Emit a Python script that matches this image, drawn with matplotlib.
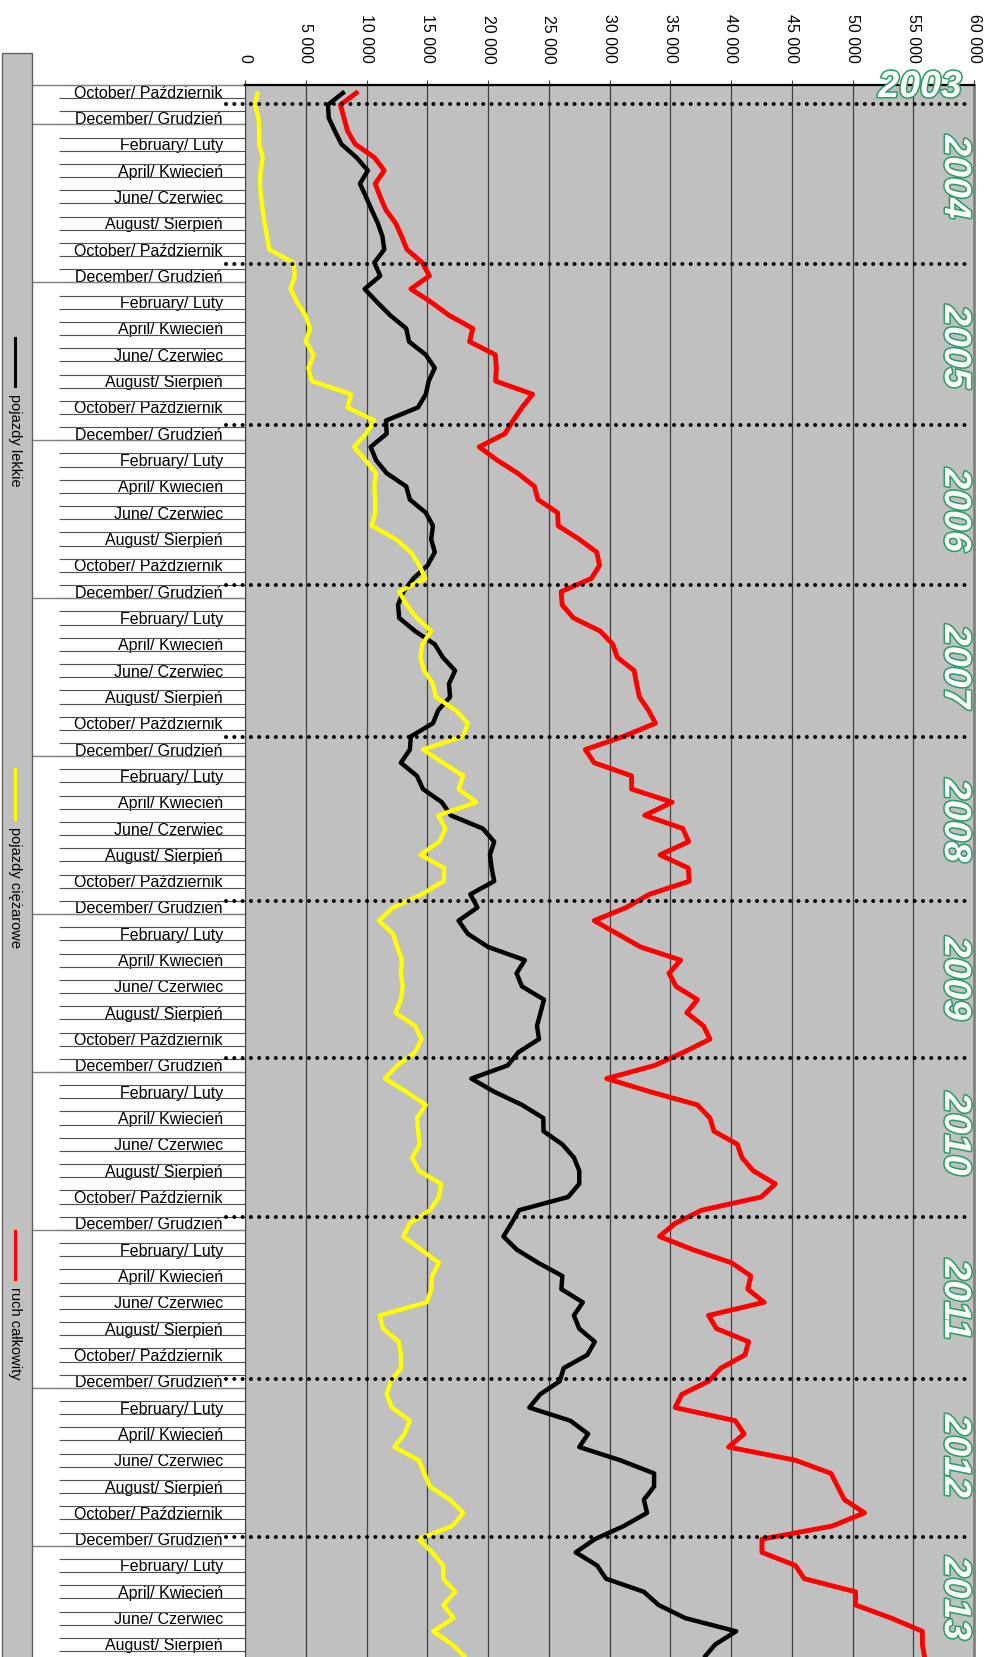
import numpy as np
import matplotlib
matplotlib.use('Agg')
import matplotlib.pyplot as plt
import matplotlib.patheffects as pe
from matplotlib.patches import Rectangle
from matplotlib.lines import Line2D

plt.rcParams['font.family'] = ['Liberation Sans', 'DejaVu Sans']

# nazwy miesięcy (EN / PL)
month_names = ['January/ Styczeń', 'February/ Luty', 'March/ Marzec', 'April/ Kwiecień',
               'May/ Maj', 'June/ Czerwiec', 'July/ Lipiec', 'August/ Sierpień',
               'September/ Wrzesień', 'October/ Październik', 'November/ Listopad',
               'December/ Grudzień']
start_month = 10   # październik 2003
n_months = 120

# pojazdy lekkie
light = [8200, 6830, 6890, 7400, 7940, 9170, 10110, 9460, 9960, 10430, 10930, 11310,
         11460, 10640, 11130, 9850, 10870, 11950, 13270, 13500, 14880, 15620, 15120, 14880,
         14240, 11600, 11660, 10340, 10780, 11660, 13270, 13570, 14880, 15470, 15320, 15620,
         15030, 13860, 13040, 12600, 12690, 14000, 15620, 16290, 17290, 16790, 16880, 15910,
         15470, 13650, 13570, 12830, 14150, 14650, 16200, 16940, 19570, 20510, 20160, 20300,
         20510, 18550, 19130, 17580, 18340, 20010, 23030, 22350, 22800, 24610, 24320, 24030,
         24200, 22500, 21620, 18630, 20510, 22800, 24550, 24570, 26120, 27070, 27510, 27510,
         26590, 22560, 21930, 21270, 22370, 24130, 26120, 26040, 27800, 27070, 27510, 28790,
         28170, 26230, 25900, 24280, 23400, 26780, 28240, 27510, 30880, 33670, 33670, 32830,
         33090, 31180, 28790, 27220, 28980, 29710, 32830, 34040, 36240, 40420, 38700, 37780]

# pojazdy ciężarowe
heavy = [1060, 820, 1110, 1170, 1170, 1460, 1290, 1230, 1320, 1460, 1610, 1820,
         1990, 3990, 4100, 3750, 4280, 4980, 5360, 5000, 5650, 5220, 5510, 8730,
         8440, 10640, 9960, 8970, 9900, 10780, 10640, 10720, 10720, 10430, 12390, 13650,
         14360, 14830, 12690, 13300, 14150, 15320, 14590, 14440, 14740, 15470, 15700, 17320,
         18340, 17960, 14650, 16290, 17960, 17580, 19040, 15910, 16500, 16000, 14440, 16400,
         16350, 14530, 12190, 11020, 12190, 12540, 12920, 12830, 12980, 12830, 12390, 14000,
         14530, 14000, 12540, 11510, 13270, 14880, 14150, 14250, 14380, 13760, 14300, 16140,
         15960, 15220, 13570, 13020, 14490, 15960, 15410, 15330, 14970, 11080, 11370, 12650,
         12840, 12840, 12000, 11660, 12100, 13570, 13130, 12290, 14300, 14750, 15220, 16870,
         17970, 17060, 14300, 15400, 16320, 16320, 17310, 16320, 17170, 15480, 17060, 18160]

# ruch całkowity
total = [9320, 7850, 8150, 8440, 9080, 10640, 11460, 10720, 11130, 11600, 12400, 12890,
         13330, 14590, 15180, 13650, 15320, 16790, 18750, 18480, 20600, 20690, 20630, 23670,
         22800, 22060, 21390, 19280, 20740, 22440, 23820, 24110, 25730, 25780, 27480, 28950,
         29180, 28510, 26020, 26100, 27040, 29240, 30270, 30650, 32030, 32230, 32460, 33200,
         33780, 31150, 28010, 28740, 31820, 31820, 35160, 32900, 36040, 36510, 34160, 36480,
         36570, 33280, 31380, 28740, 30650, 32550, 35860, 34900, 35480, 37240, 36360, 37740,
         38270, 36100, 33720, 29770, 33340, 37240, 38270, 38600, 40530, 40900, 41820, 43650,
         42480, 37600, 35400, 34110, 36860, 40050, 41630, 41380, 42730, 38150, 38810, 41450,
         41150, 39170, 38150, 35950, 35400, 40350, 41080, 39800, 45300, 48230, 48780, 49340,
         50990, 48340, 42550, 42550, 45300, 46030, 50250, 50250, 53190, 55750, 55750, 55940]

series_names = ['pojazdy lekkie', 'pojazdy ciężarowe', 'ruch całkowity']
series_colors = ['black', '#ffff00', '#ff0000']

x_ticks = list(range(0, 60001, 5000))
x_tick_labels = ['0', '5 000', '10 000', '15 000', '20 000', '25 000', '30 000',
                 '35 000', '40 000', '45 000', '50 000', '55 000', '60 000']

year_labels = ['2004', '2005', '2006', '2007', '2008', '2009', '2010', '2011', '2012', '2013']
year_label_pos = [6.5, 19.4, 31.8, 43.7, 55.4, 67.4, 79.2, 91.8, 103.7, 114.5]
# kropkowane linie (granice lat, rysowane ręcznie w oryginale)
divider_pos = [0.94, 13.1, 25.3, 37.5, 49.06, 61.5, 73.4, 85.5, 97.8, 109.8]

categories = [month_names[(start_month - 1 + k) % 12] for k in range(n_months)]
jan_idx = [k for k in range(n_months) if (start_month - 1 + k) % 12 == 0]

W, H = 987, 1657
row = 13.16
n_rows = 122
fig = plt.figure(figsize=(W / 100, H / 100), dpi=100)
ax = fig.add_axes([245 / W, 1 - (85 + n_rows * row) / H, 729 / W, n_rows * row / H])
ax.set_facecolor('#c0c0c0')

y = np.arange(n_months)
for vals, col, lw in zip([light, heavy, total], series_colors, [3.2, 3.1, 3.5]):
    ax.plot(vals, y, color=col, lw=lw, solid_joinstyle='round', solid_capstyle='butt', zorder=3)

ax.set_xlim(0, 60000)
ax.set_ylim(n_rows - 0.5, -0.5)

# oś wartości u góry
ax.xaxis.tick_top()
ax.set_xticks(x_ticks)
ax.set_xticklabels(x_tick_labels, rotation=-90)
ax.tick_params(axis='x', length=3.6, width=0.8, pad=12, labelsize=11.5, color='#404040')
ax.grid(axis='x', color='#404040', lw=0.9)
ax.set_axisbelow(True)

# oś kategorii
ax.set_yticks(range(0, n_months, 2))
ax.set_yticklabels(categories[::2])
ax.set_yticks(np.arange(-0.5, n_rows, 1), minor=True)
ax.tick_params(axis='y', which='major', length=0, pad=16, labelsize=11.5)
ax.tick_params(axis='y', which='minor', length=134, width=0.8, color='#505050')

for b in [-0.5] + [k - 0.5 for k in jan_idx]:
    ax.plot([-0.292, 0], [b, b], transform=ax.get_yaxis_transform(), color='#808080',
            lw=1, clip_on=False)

ax.spines['top'].set_linewidth(1.6)
ax.spines['top'].set_color('black')
ax.spines['right'].set_linewidth(2)
ax.spines['right'].set_color('#808080')
ax.spines['left'].set_color('#404040')
ax.spines['bottom'].set_visible(False)

for p in divider_pos:
    ax.plot([-1600, 59800], [p, p], color='black', lw=2.9, linestyle=(0, (0.01, 2.05)),
            dash_capstyle='round', clip_on=False, zorder=5)

stroke = [pe.withStroke(linewidth=2.3, foreground='#2e9e66')]
for yl, yp in zip(year_labels, year_label_pos):
    ax.text(0.974, yp, yl, transform=ax.get_yaxis_transform(), rotation=-90,
            ha='center', va='center', fontsize=27, fontweight='bold', fontstyle='italic',
            color='white', path_effects=stroke, zorder=6)
ax.text(0.926, -0.35, '2003', transform=ax.get_yaxis_transform(), ha='center', va='center',
        fontsize=27, fontweight='bold', fontstyle='italic', color='white',
        path_effects=stroke, zorder=6, clip_on=False)

# legenda (pionowa, po lewej)
fig.add_artist(Rectangle((2 / W, -0.01), 30 / W, (H - 53) / H + 0.01, transform=fig.transFigure,
                         facecolor='#c0c0c0', edgecolor='#606060', lw=1))
legend_px = [(338, 386), (769, 819), (1231, 1279)]
for name, col, (l0, l1) in zip(series_names, series_colors, legend_px):
    fig.add_artist(Line2D([15 / W, 15 / W], [1 - l0 / H, 1 - l1 / H], color=col, lw=2.2,
                          transform=fig.transFigure))
    fig.text(15 / W, 1 - (l1 + 8) / H, name, rotation=-90, ha='center', va='top', fontsize=10.5)

fig.savefig('out.png', dpi=100)
